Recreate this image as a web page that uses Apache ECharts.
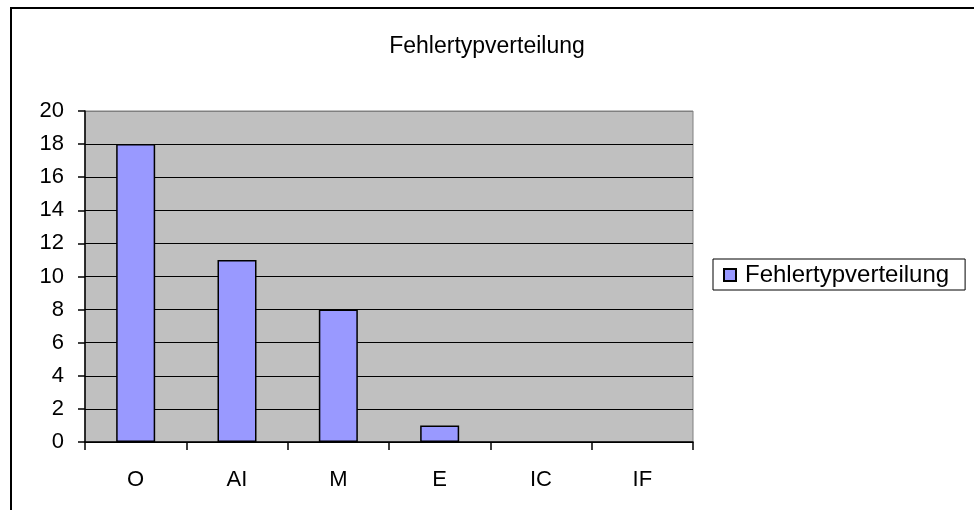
<!DOCTYPE html>
<html>
<head>
<meta charset="utf-8">
<script src="https://cdn.jsdelivr.net/npm/echarts@6/dist/echarts.min.js"></script>
<style>
  html, body { margin: 0; padding: 0; background: #fff; }
  #chart { width: 974px; height: 510px; }
</style>
</head>
<body>
<div id="chart"></div>
<script>
const categories = ['O', 'AI', 'M', 'E', 'IC', 'IF']
const values = [18, 11, 8, 1, 0, 0]
const seriesName = 'Fehlertypverteilung'

// gridlines black, top one (at 20) gray like the plot border
const splitColors = ['#000', '#000', '#000', '#000', '#000', '#000', '#000', '#000', '#000', '#000', '#808080']

const myChart = echarts.init(document.getElementById('chart'))
myChart.setOption({
    animation: false,
    textStyle: { fontFamily: 'Liberation Sans, Arial, sans-serif', color: '#000' },
    title: {
        text: 'Fehlertypverteilung',
        left: 'center',
        top: 30,
        textStyle: { fontSize: 23, fontWeight: 'normal', color: '#000', fontFamily: 'Liberation Sans' }
    },
    graphic: [{
        type: 'rect',
        shape: { x: 11, y: 8, width: 1000, height: 600 },
        style: { fill: 'none', stroke: '#000', lineWidth: 2 },
        z: -1
    }],
    legend: {
        left: 713,
        top: 259,
        icon: 'rect',
        itemWidth: 12,
        itemHeight: 12,
        itemGap: 6,
        padding: [4, 16, 3, 10],
        borderColor: '#000',
        borderWidth: 1,
        textStyle: { fontSize: 24, color: '#000', fontFamily: 'Liberation Sans', padding: [0, 0, 0, 4] },
        data: [seriesName]
    },
    grid: {
        left: 85,
        top: 111,
        right: 281,
        bottom: 68,
        show: true,
        backgroundColor: '#C0C0C0',
        borderColor: '#808080',
        borderWidth: 1
    },
    xAxis: {
        type: 'category',
        data: categories,
        boundaryGap: true,
        axisLine: { lineStyle: { color: '#000', width: 1.5 } },
        axisTick: { show: true, length: 8, inside: false, lineStyle: { color: '#000', width: 1.5 } },
        axisLabel: { fontSize: 22, color: '#000', margin: 27 }
    },
    yAxis: {
        type: 'value',
        min: 0,
        max: 20,
        interval: 2,
        axisLine: { show: true, lineStyle: { color: '#000', width: 1.5 } },
        axisTick: { show: true, length: 7, lineStyle: { color: '#000', width: 1.5 } },
        axisLabel: { fontSize: 22, color: '#000', margin: 21 },
        splitLine: { show: true, lineStyle: { color: splitColors, width: 1 } }
    },
    series: [{
        name: seriesName,
        type: 'bar',
        data: values.map(v => v === 0 ? { value: v, itemStyle: { borderWidth: 0 } } : v),
        barWidth: 39,
        itemStyle: { color: '#9999FF', borderColor: '#000', borderWidth: 1.5 }
    }]
})
</script>
</body>
</html>
